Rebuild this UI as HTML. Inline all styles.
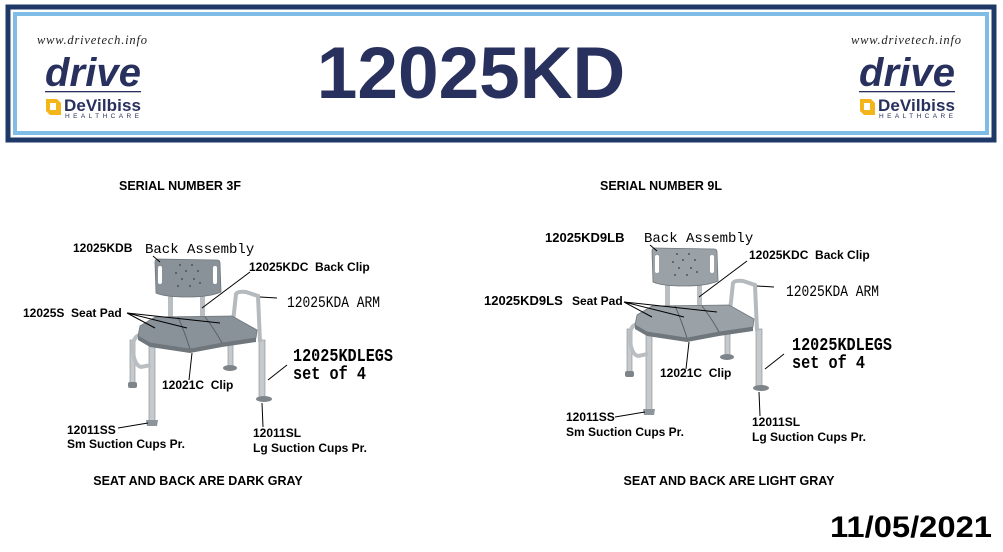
<!DOCTYPE html>
<html><head><meta charset="utf-8"><style>
html,body{margin:0;padding:0;background:#fff;}
svg{display:block;}
text{font-family:"Liberation Sans",Arial,sans-serif;}
.b{font-weight:bold;font-size:12px;fill:#000;}
.m{font-family:"Liberation Mono",monospace;font-size:14px;fill:#000;}
.h{font-weight:bold;font-size:12.5px;fill:#000;}
</style></head><body>
<svg width="1003" height="552" viewBox="0 0 1003 552" xmlns="http://www.w3.org/2000/svg">
<defs>
<g id="logo">
  <text x="0" y="44" style="font-family:'Liberation Serif',serif;font-style:italic;font-size:12.5px" fill="#222" textLength="110">www.drivetech.info</text>
  <text x="8" y="86" style="font-weight:bold;font-style:italic;font-size:40px;letter-spacing:-2px" fill="#28305e" textLength="94">drive</text>
  <rect x="8" y="91" width="96" height="1.3" fill="#28305e"/>
  <path d="M9 99 h11 l4 4 v12 h-11 l-4 -4 z" fill="#f3b51b"/>
  <rect x="13" y="103" width="6" height="7" fill="#fff"/>
  <text x="27" y="111" style="font-weight:bold;font-size:17px" fill="#28305e" textLength="77">DeVilbiss</text>
  <text x="28" y="118" style="font-size:6.5px;letter-spacing:2px" fill="#28305e" textLength="76">HEALTHCARE</text>
</g>
<g id="chair">
  <rect x="130" y="340" width="5" height="43" fill="#c6cacd" stroke="#8f959a" stroke-width="0.7"/>
  <rect x="128" y="382" width="9" height="6" rx="2" fill="#7d858b"/>
  <rect x="149" y="345" width="6" height="76" fill="#c6cacd" stroke="#8f959a" stroke-width="0.7"/>
  <path d="M146 420 h12 l-1 6 h-10 z" fill="#8d959b"/>
  <rect x="228" y="338" width="5" height="29" fill="#c6cacd" stroke="#8f959a" stroke-width="0.7"/>
  <ellipse cx="230" cy="368" rx="7" ry="3" fill="#7d858b"/>
  <rect x="259" y="340" width="6" height="57" fill="#c6cacd" stroke="#8f959a" stroke-width="0.7"/>
  <ellipse cx="264" cy="399" rx="8" ry="3" fill="#7d858b"/>
  <path d="M140 335 q-8 2 -7 15 q1 15 8 17 l10 -2" fill="none" stroke="#b9bec2" stroke-width="4"/>
  <path d="M233 322 L236 294 Q238 291 246 292 L258 296 L260 342" fill="none" stroke="#b5babe" stroke-width="4"/>
  <rect x="168" y="296" width="5" height="26" fill="#b9bec2"/>
  <rect x="200" y="296" width="5" height="26" fill="#b9bec2"/>
  <path d="M155 262 Q155 259 158 259 L217 260 Q220 260 220 263 L221 292 Q210 297 187 297 Q165 297 156 293 Z" fill="var(--g)" stroke="#6f777c" stroke-width="0.8"/>
  <rect x="158" y="266" width="4" height="18" rx="2" fill="#fff"/>
  <rect x="213" y="266" width="4" height="18" rx="2" fill="#fff"/>
  <g fill="#4d5459">
   <circle cx="180" cy="265" r="1"/><circle cx="192" cy="265" r="1"/><circle cx="176" cy="273" r="1"/><circle cx="186" cy="271" r="1"/><circle cx="198" cy="271" r="1"/><circle cx="182" cy="279" r="1"/><circle cx="194" cy="279" r="1"/><circle cx="178" cy="286" r="1"/><circle cx="190" cy="286" r="1"/><circle cx="200" cy="283" r="1"/>
  </g>
  <path d="M140 326 L155 317 L232 316 L257 330 L256 338 L222 343 L190 349 L150 343 L138 336 Z" fill="var(--g)" stroke="#6f777c" stroke-width="0.8"/>
  <path d="M138 336 L150 343 L190 349 L222 343 L256 338 L256 342 L222 347 L190 353 L150 347 L138 340 Z" fill="#6f777c"/>
  <path d="M178 317 Q184 330 190 349 M205 317 Q215 330 222 343" stroke="#5b6267" stroke-width="1" fill="none"/>
</g>
</defs>
<rect x="8" y="7" width="986" height="133" fill="none" stroke="#1e3868" stroke-width="5"/>
<rect x="15" y="14" width="972" height="119" fill="none" stroke="#7fbde6" stroke-width="4"/>
<use href="#logo" x="37"/>
<use href="#logo" x="851"/>
<text x="471" y="98" text-anchor="middle" style="font-weight:bold;font-size:73px" fill="#28305e">12025KD</text>

<text x="180" y="190" text-anchor="middle" class="h">SERIAL NUMBER 3F</text>
<text x="661" y="190" text-anchor="middle" class="h">SERIAL NUMBER 9L</text>

<g style="--g:#899299"><use href="#chair"/></g>
<g stroke="#000" stroke-width="1" fill="none">
 <path d="M153 256 L160 262"/><path d="M250 272 L202 308"/><path d="M277 298 L260 297"/>
 <path d="M127 313 L155 328 M127 313 L187 328 M127 313 L220 323"/>
 <path d="M192 353 L189 380"/><path d="M287 365 L268 380"/><path d="M118 428 L148 423"/><path d="M262 403 L263 427"/>
</g>
<text x="73" y="252" class="b">12025KDB</text>
<text x="145" y="253" class="m">Back Assembly</text>
<text x="249" y="271" class="b">12025KDC&#160;&#160;Back Clip</text>
<text x="287" y="307" class="m" style="font-size:16px" textLength="93" lengthAdjust="spacingAndGlyphs">12025KDA ARM</text>
<text x="23" y="317" class="b">12025S&#160;&#160;Seat Pad</text>
<text x="293" y="361" class="m" style="font-size:18px;font-weight:bold" textLength="100" lengthAdjust="spacingAndGlyphs">12025KDLEGS</text>
<text x="293" y="379" class="m" style="font-size:18px;font-weight:bold" textLength="73" lengthAdjust="spacingAndGlyphs">set of 4</text>
<text x="162" y="389" class="b">12021C&#160;&#160;Clip</text>
<text x="67" y="434" class="b">12011SS</text>
<text x="67" y="448" class="b">Sm Suction Cups Pr.</text>
<text x="253" y="437" class="b">12011SL</text>
<text x="253" y="452" class="b">Lg Suction Cups Pr.</text>

<g transform="translate(497,-11)" style="--g:#9aa2a8">
 <use href="#chair"/>
 <g stroke="#000" stroke-width="1" fill="none">
  <path d="M153 256 L160 262"/><path d="M250 272 L202 308"/><path d="M277 298 L260 297"/>
  <path d="M127 313 L155 328 M127 313 L187 328 M127 313 L220 323"/>
  <path d="M192 353 L189 380"/><path d="M287 365 L268 380"/><path d="M118 428 L148 423"/><path d="M262 403 L263 427"/>
 </g>
</g>
<text x="545" y="242" class="b" style="font-size:13px">12025KD9LB</text>
<text x="644" y="242" class="m">Back Assembly</text>
<text x="749" y="259" class="b">12025KDC&#160;&#160;Back Clip</text>
<text x="786" y="296" class="m" style="font-size:16px" textLength="93" lengthAdjust="spacingAndGlyphs">12025KDA ARM</text>
<text x="484" y="305" class="b" style="font-size:13px">12025KD9LS</text>
<text x="572" y="305" class="b">Seat Pad</text>
<text x="792" y="350" class="m" style="font-size:18px;font-weight:bold" textLength="100" lengthAdjust="spacingAndGlyphs">12025KDLEGS</text>
<text x="792" y="368" class="m" style="font-size:18px;font-weight:bold" textLength="73" lengthAdjust="spacingAndGlyphs">set of 4</text>
<text x="660" y="377" class="b">12021C&#160;&#160;Clip</text>
<text x="566" y="421" class="b">12011SS</text>
<text x="566" y="436" class="b">Sm Suction Cups Pr.</text>
<text x="752" y="426" class="b">12011SL</text>
<text x="752" y="441" class="b">Lg Suction Cups Pr.</text>

<text x="198" y="485" text-anchor="middle" class="h">SEAT AND BACK ARE DARK GRAY</text>
<text x="729" y="485" text-anchor="middle" class="h">SEAT AND BACK ARE LIGHT GRAY</text>
<text x="830" y="537" style="font-weight:bold;font-size:30px" fill="#000" textLength="162" lengthAdjust="spacingAndGlyphs">11/05/2021</text>
</svg>
</body></html>
